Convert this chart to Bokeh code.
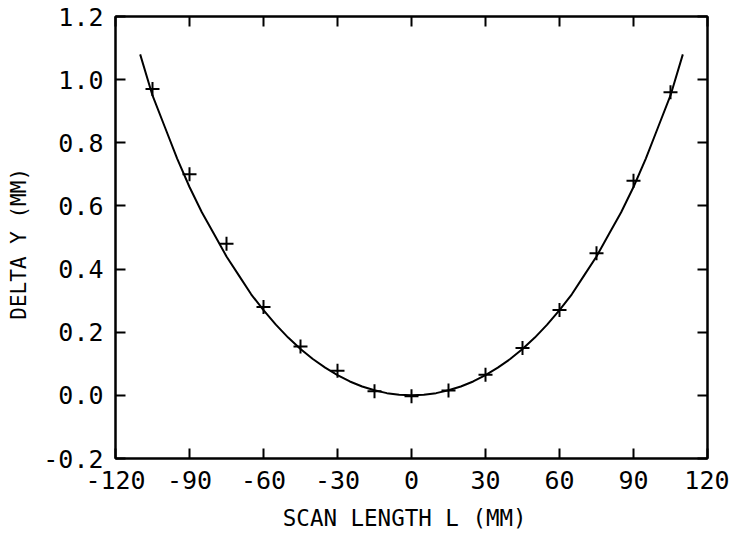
from bokeh.plotting import figure
from bokeh.models import LinearAxis, FixedTicker, Range1d, CustomJSTickFormatter
from bokeh.embed import file_html
from bokeh.resources import INLINE

# measured points
x_points = [-105, -90, -75, -60, -45, -30, -15, 0, 15, 30, 45, 60, 75, 90, 105]
y_points = [0.97, 0.70, 0.48, 0.28, 0.155, 0.078, 0.013, -0.003, 0.015, 0.065, 0.15, 0.27, 0.45, 0.68, 0.96]

# fitted curve
curve_x = [-110, -105, -100, -95, -90, -85, -80, -75, -70, -65, -60, -55, -50, -45, -40,
           -35, -30, -25, -20, -15, -10, -5, 0, 5, 10, 15, 20, 25, 30, 35, 40, 45, 50,
           55, 60, 65, 70, 75, 80, 85, 90, 95, 100, 105, 110]
curve_y = [1.08, 0.95, 0.85, 0.75, 0.66, 0.58, 0.51, 0.44, 0.38, 0.32, 0.27, 0.224, 0.183, 0.147, 0.115,
           0.088, 0.064, 0.044, 0.028, 0.016, 0.007, 0.002, 0.0, 0.002, 0.007, 0.016, 0.028, 0.044, 0.064,
           0.088, 0.115, 0.147, 0.183, 0.224, 0.27, 0.32, 0.38, 0.44, 0.51, 0.58, 0.66, 0.75, 0.85, 0.95, 1.08]

x_ticks = [-120, -90, -60, -30, 0, 30, 60, 90, 120]
x_tick_labels = ["-120", "-90", "-60", "-30", "0", "30", "60", "90", "120"]
y_ticks = [-0.2, 0.0, 0.2, 0.4, 0.6, 0.8, 1.0, 1.2]
y_tick_labels = ["-0.2", "0.0", "0.2", "0.4", "0.6", "0.8", "1.0", "1.2"]

FONT = "DejaVu Sans Mono"

p = figure(width=729, height=533, output_backend="svg", toolbar_location=None,
           x_range=Range1d(-120, 120), y_range=Range1d(-0.2, 1.2),
           min_border_left=115, min_border_right=22, min_border_top=16, min_border_bottom=71,
           x_axis_label="SCAN LENGTH L  (MM)", y_axis_label="DELTA Y  (MM)")
p.grid.visible = False
p.outline_line_color = "black"
p.outline_line_width = 2

def style(ax, ticks, labels, show, label_size="21px", label_standoff=14):
    ax.ticker = FixedTicker(ticks=ticks)
    ax.major_tick_in = 10
    ax.major_tick_out = 0
    ax.minor_tick_in = 0
    ax.minor_tick_out = 0
    ax.major_tick_line_width = 2
    ax.major_tick_line_color = "black"
    ax.axis_line_width = 2
    ax.axis_line_color = "black"
    ax.major_label_text_font = FONT
    ax.major_label_text_color = "black"
    ax.axis_label_text_font = FONT
    ax.axis_label_text_font_style = "normal"
    ax.axis_label_text_color = "black"
    if show:
        ax.major_label_overrides = {t: l for t, l in zip(ticks, labels)}
        ax.major_label_text_font_size = "25px"
        ax.axis_label_text_font_size = label_size
        ax.major_label_standoff = 12
        ax.axis_label_standoff = label_standoff
    else:
        ax.formatter = CustomJSTickFormatter(code="return '';")
        ax.major_label_standoff = 0

style(p.xaxis[0], x_ticks, x_tick_labels, True, "22.5px", 13)
style(p.yaxis[0], y_ticks, y_tick_labels, True, "21px", 9)

top = LinearAxis()
style(top, x_ticks, x_tick_labels, False)
p.add_layout(top, "above")
right = LinearAxis()
style(right, y_ticks, y_tick_labels, False)
p.add_layout(right, "right")

p.line(curve_x, curve_y, line_color="black", line_width=2)
p.scatter(x_points, y_points, marker="cross", size=14, line_color="black", line_width=2)

open("out.html", "w").write(file_html(p, INLINE))
